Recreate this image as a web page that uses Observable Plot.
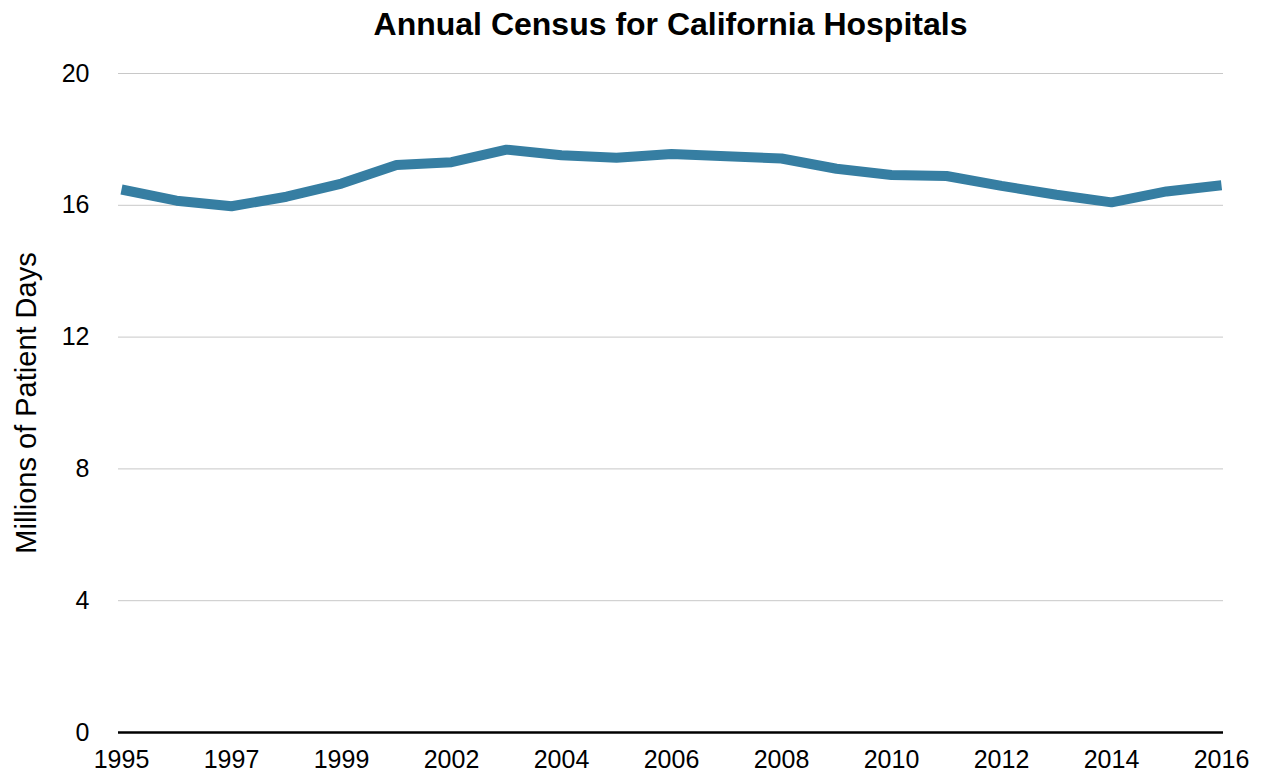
<!DOCTYPE html>
<html>
<head>
<meta charset="utf-8">
<script src="https://cdn.jsdelivr.net/npm/d3@7"></script>
<script src="https://cdn.jsdelivr.net/npm/@observablehq/plot@0.6"></script>
<style>
  html, body { margin: 0; padding: 0; background: #fff; }
  body { width: 1266px; height: 774px; overflow: hidden; font-family: "Liberation Sans", Arial, Helvetica, sans-serif; }
  #title {
    box-sizing: border-box;
    height: 50px;
    padding-top: 4px;
    line-height: 40px;
    margin-left: 118px;
    width: 1105px;
    text-align: center;
    font-size: 32px;
    font-weight: bold;
    color: #000;
    white-space: nowrap;
  }
  #chart svg { display: block; }
</style>
</head>
<body>
<div id="title">Annual Census for California Hospitals</div>
<div id="chart"></div>
<script>
// Reporting years (one year absent from the series)
const years = ["1995", "1996", "1997", "1998", "1999", "2000", "2002", "2003", "2004", "2005", "2006",
               "2007", "2008", "2009", "2010", "2011", "2012", "2013", "2014", "2015", "2016"];

// Patient days, in millions
const patientDays = [16.48, 16.14, 15.97, 16.26, 16.66, 17.22, 17.31, 17.69, 17.52, 17.44, 17.56,
                     17.49, 17.42, 17.11, 16.92, 16.89, 16.59, 16.32, 16.09, 16.42, 16.61];

// Labelled years on the horizontal axis
const xTicks = ["1995", "1997", "1999", "2002", "2004", "2006", "2008", "2010", "2012", "2014", "2016"];

// Value ticks on the vertical axis
const yTicks = [0, 4, 8, 12, 16, 20];
const gridValues = [4, 8, 12, 16, 20];

const yLabel = "Millions of Patient Days";

const data = years.map((year, i) => ({year, value: patientDays[i]}));

const chart = Plot.plot({
  width: 1266,
  height: 724,
  marginLeft: 118,
  marginRight: 43,
  marginTop: 23,
  marginBottom: 42,
  style: {
    fontFamily: '"Liberation Sans", Arial, Helvetica, sans-serif',
    fontSize: "25px",
    color: "#000",
    background: "#fff",
    overflow: "visible"
  },
  x: {type: "point", domain: years, padding: 0},
  y: {domain: [0, 20]},
  marks: [
    Plot.ruleY(gridValues, {stroke: "#c8c8c8", strokeWidth: 1, strokeOpacity: 1}),
    Plot.ruleY([0], {stroke: "#000", strokeWidth: 2.5}),
    Plot.axisX({ticks: xTicks, tickSize: 0, tickPadding: 18, label: null, fontSize: 25}),
    Plot.axisY({ticks: yTicks, tickSize: 0, tickPadding: 29, label: null, fontSize: 25}),
    Plot.text([yLabel], {
      frameAnchor: "left",
      textAnchor: "middle",
      dx: -92,
      rotate: -90,
      fontSize: 29,
      fill: "#000"
    }),
    Plot.line(data, {
      x: "year",
      y: "value",
      stroke: "#367ea2",
      strokeWidth: 10,
      strokeLinecap: "butt",
      strokeLinejoin: "miter"
    })
  ]
});

document.getElementById("chart").appendChild(chart);
</script>
</body>
</html>
